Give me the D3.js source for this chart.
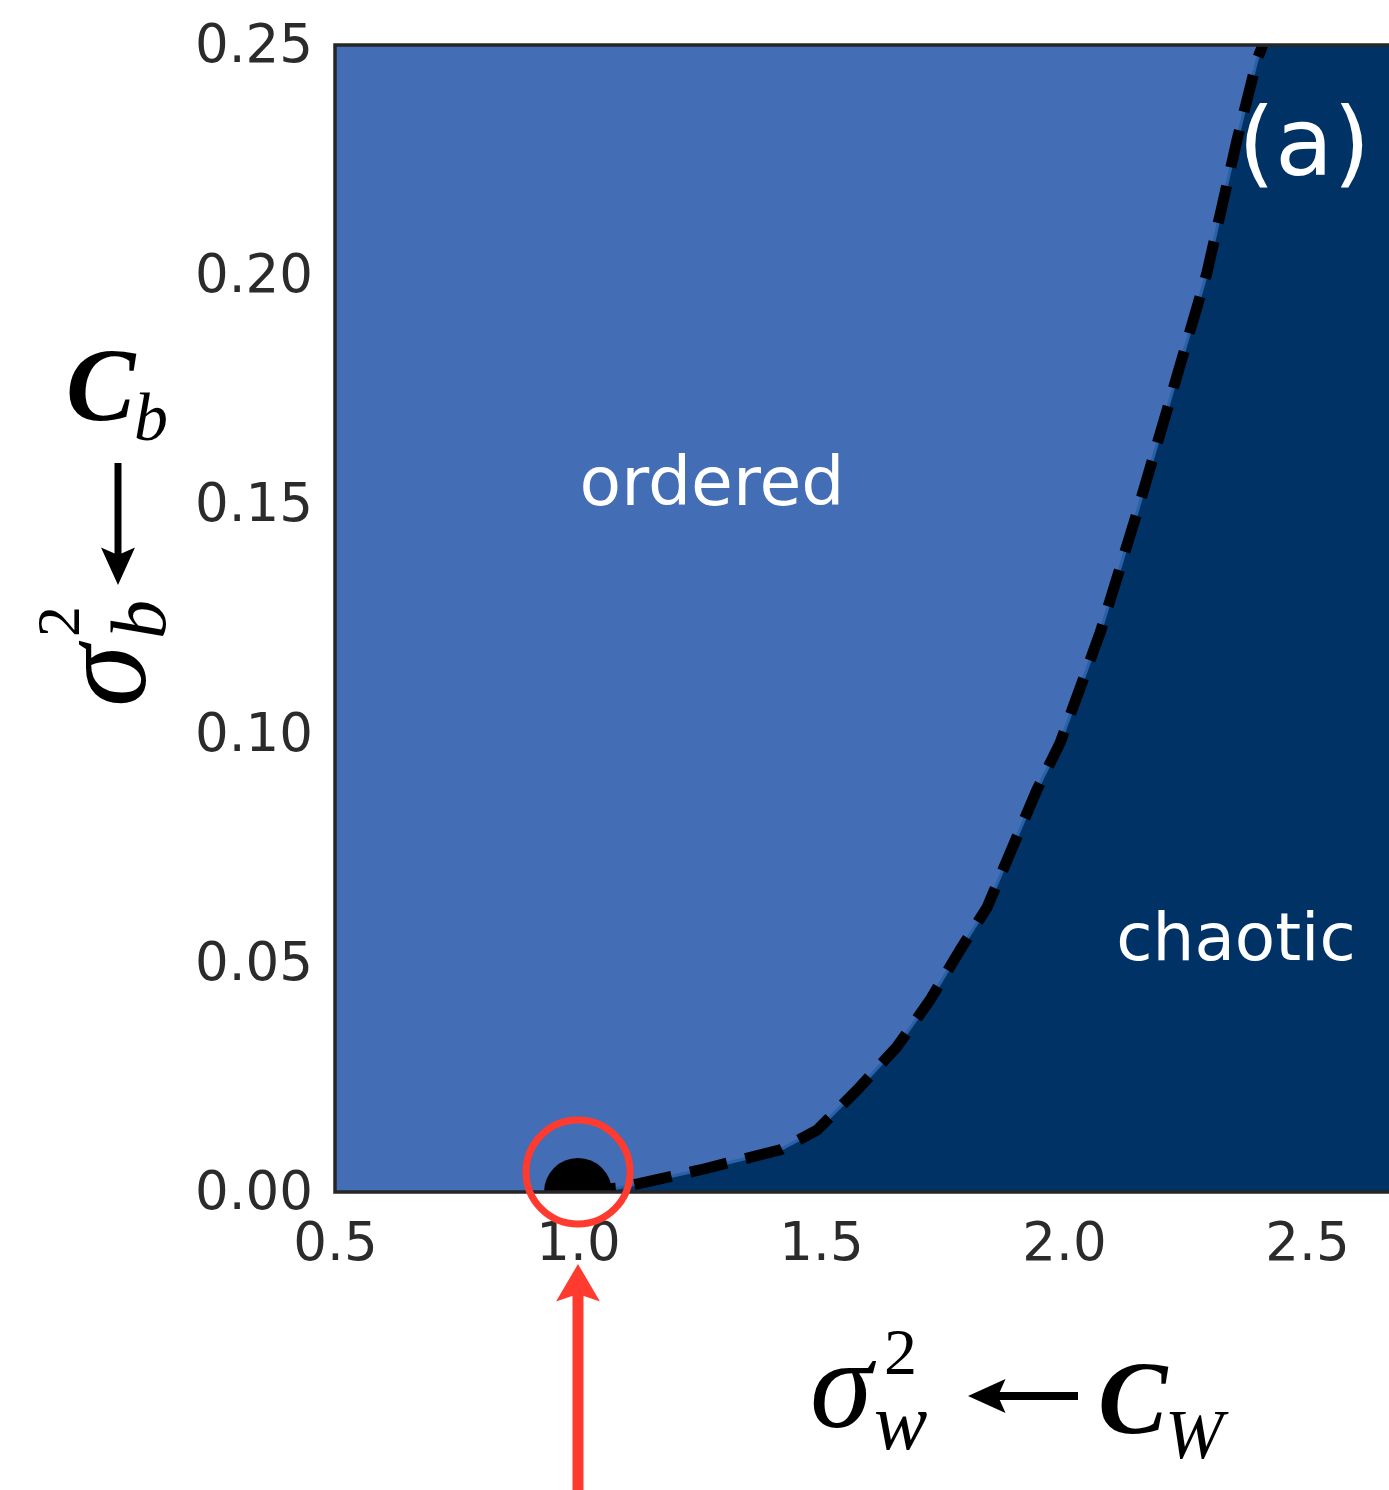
<!DOCTYPE html>
<html lang="en">
<head>
<meta charset="UTF-8">
<title>Phase diagram</title>
<script src="https://d3js.org/d3.v7.min.js"></script>
<style>
  body { margin: 0; background: #fff; }
</style>
</head>
<body>
<svg></svg>
<script>
// order-to-chaos boundary
const boundarySw = [1.0, 1.086, 1.251, 1.416, 1.492, 1.574, 1.656, 1.724, 1.786, 1.842, 1.944, 1.992, 2.074, 2.150, 2.218, 2.294, 2.356, 2.397, 2.409];
const boundarySb = [0.0, 0.0009, 0.0048, 0.0092, 0.0135, 0.0222, 0.0316, 0.0418, 0.0527, 0.0621, 0.0876, 0.0979, 0.1218, 0.1480, 0.1726, 0.2003, 0.2293, 0.2467, 0.25];
const xTicks = [0.5, 1.0, 1.5, 2.0, 2.5];
const yTicks = [0.00, 0.05, 0.10, 0.15, 0.20, 0.25];
const criticalPoint = [1.0, 0.0];
const phaseLabels = ["ordered", "chaotic"];

const W = 1389, H = 1490;
const mLeft = 335, mTop = 45, mBottom = 1192, mRight = 1392;

const x = d3.scaleLinear().domain([0.5, 2.5]).range([mLeft, 1307]);
const y = d3.scaleLinear().domain([0, 0.25]).range([mBottom, mTop]);
const xMax = x.invert(mRight);

const svg = d3.select("svg")
    .attr("width", W)
    .attr("height", H)
    .style("display", "block");

svg.append("defs").append("clipPath").attr("id", "plot")
    .append("rect")
    .attr("x", mLeft).attr("y", mTop)
    .attr("width", mRight - mLeft).attr("height", mBottom - mTop);

const plot = svg.append("g").attr("clip-path", "url(#plot)");

// ordered phase background
plot.append("rect")
    .attr("x", mLeft).attr("y", mTop)
    .attr("width", mRight - mLeft).attr("height", mBottom - mTop)
    .attr("fill", "#436db4");

const boundary = boundarySw.map((d, i) => [d, boundarySb[i]]);
const line = d3.line().x(d => x(d[0])).y(d => y(d[1]));

// chaotic phase region
const chaotic = boundary.concat([[xMax, 0.25], [xMax, 0], [boundarySw[0], 0]]);
plot.append("path")
    .attr("d", line(chaotic) + "Z")
    .attr("fill", "#003266");

plot.append("path")
    .attr("d", line(boundary))
    .attr("fill", "none")
    .attr("stroke", "#2a62a8")
    .attr("stroke-width", 3);

plot.append("path")
    .attr("d", line(boundary))
    .attr("fill", "none")
    .attr("stroke", "#000")
    .attr("stroke-width", 11)
    .attr("stroke-dasharray", "38,19");

plot.append("circle")
    .attr("cx", x(criticalPoint[0]))
    .attr("cy", y(criticalPoint[1]))
    .attr("r", 34)
    .attr("fill", "#000");

// frame (right side runs past the picture)
svg.append("path")
    .attr("d", `M${mRight},${mTop}H${mLeft}V${mBottom}H${mRight}`)
    .attr("fill", "none")
    .attr("stroke", "#262626")
    .attr("stroke-width", 3.5);

const tickFont = "'DejaVu Sans', sans-serif";

const yAxis = svg.append("g")
    .attr("transform", `translate(${mLeft},0)`)
    .call(d3.axisLeft(y).tickValues(yTicks).tickSize(0).tickPadding(22).tickFormat(d3.format(".2f")));
const xAxis = svg.append("g")
    .attr("transform", `translate(0,${mBottom})`)
    .call(d3.axisBottom(x).tickValues(xTicks).tickSize(0).tickPadding(30).tickFormat(d3.format(".1f")));

[xAxis, yAxis].forEach(g => {
    g.select(".domain").remove();
    g.selectAll("text")
        .attr("fill", "#2b2b2b")
        .style("font-family", tickFont)
        .style("font-size", "53px");
});

// phase names
svg.append("text")
    .attr("x", 712).attr("y", 505)
    .attr("text-anchor", "middle")
    .attr("fill", "#fff")
    .style("font", "68px 'DejaVu Sans', sans-serif")
    .text(phaseLabels[0]);

svg.append("text")
    .attr("x", 1236).attr("y", 960)
    .attr("text-anchor", "middle")
    .attr("fill", "#fff")
    .style("font", "66px 'DejaVu Sans', sans-serif")
    .text(phaseLabels[1]);

svg.append("text")
    .attr("x", 1238).attr("y", 175)
    .attr("fill", "#fff")
    .style("font", "95px 'DejaVu Sans', sans-serif")
    .text("(a)");

// axis labels, each symbol with its super/subscripts as one text
const serif = "'Liberation Serif', 'Times New Roman', serif";

function mathLabel(g, parts) {
    const t = g.append("text")
        .style("font-family", serif)
        .attr("fill", "#000");
    parts.forEach(p => {
        t.append("tspan")
            .attr("x", p.x).attr("y", p.y)
            .style("font-size", p.size + "px")
            .style("font-style", p.italic ? "italic" : "normal")
            .style("font-weight", p.bold ? "bold" : "normal")
            .text(p.t);
    });
    return t;
}

mathLabel(svg, [
    { t: "σ", x: 810, y: 1427, size: 126, italic: true },
    { t: "2", x: 884, y: 1374, size: 66 },
    { t: "w", x: 874, y: 1449, size: 80, italic: true }
]);

mathLabel(svg, [
    { t: "C", x: 1098, y: 1433, size: 104, italic: true, bold: true },
    { t: "W", x: 1165, y: 1458, size: 70, italic: true }
]);

const yl = svg.append("g").attr("transform", "translate(145,707) rotate(-90)");
mathLabel(yl, [
    { t: "σ", x: 0, y: 0, size: 126, italic: true },
    { t: "2", x: 70, y: -66, size: 62 },
    { t: "b", x: 68, y: 20, size: 78, italic: true }
]);

mathLabel(svg, [
    { t: "C", x: 66, y: 420, size: 104, italic: true, bold: true },
    { t: "b", x: 134, y: 440, size: 68, italic: true }
]);

// arrows
function arrow(x1, y1, x2, y2, color, w, headLen, headW) {
    const a = Math.atan2(y2 - y1, x2 - x1);
    const bx = x2 - headLen * Math.cos(a), by = y2 - headLen * Math.sin(a);
    svg.append("line")
        .attr("x1", x1).attr("y1", y1)
        .attr("x2", bx + 2 * Math.cos(a)).attr("y2", by + 2 * Math.sin(a))
        .attr("stroke", color).attr("stroke-width", w);
    const nx = -Math.sin(a) * headW / 2, ny = Math.cos(a) * headW / 2;
    const back = headLen * 0.25;
    svg.append("polygon")
        .attr("points", [
            [x2, y2],
            [bx + nx - back * Math.cos(a), by + ny - back * Math.sin(a)],
            [bx, by],
            [bx - nx - back * Math.cos(a), by - ny - back * Math.sin(a)]
        ].map(p => p.join(",")).join(" "))
        .attr("fill", color);
}

arrow(118, 463, 118, 585, "#000", 7, 30, 34);
arrow(1078, 1396, 968, 1396, "#000", 8, 30, 34);

// critical point highlight
svg.append("circle")
    .attr("cx", x(criticalPoint[0]))
    .attr("cy", y(criticalPoint[1]) - 20)
    .attr("r", 52)
    .attr("fill", "none")
    .attr("stroke", "#ff3b30")
    .attr("stroke-width", 7);

arrow(x(criticalPoint[0]), 1490, x(criticalPoint[0]), 1264, "#ff3b30", 11, 30, 44);
</script>
</body>
</html>
